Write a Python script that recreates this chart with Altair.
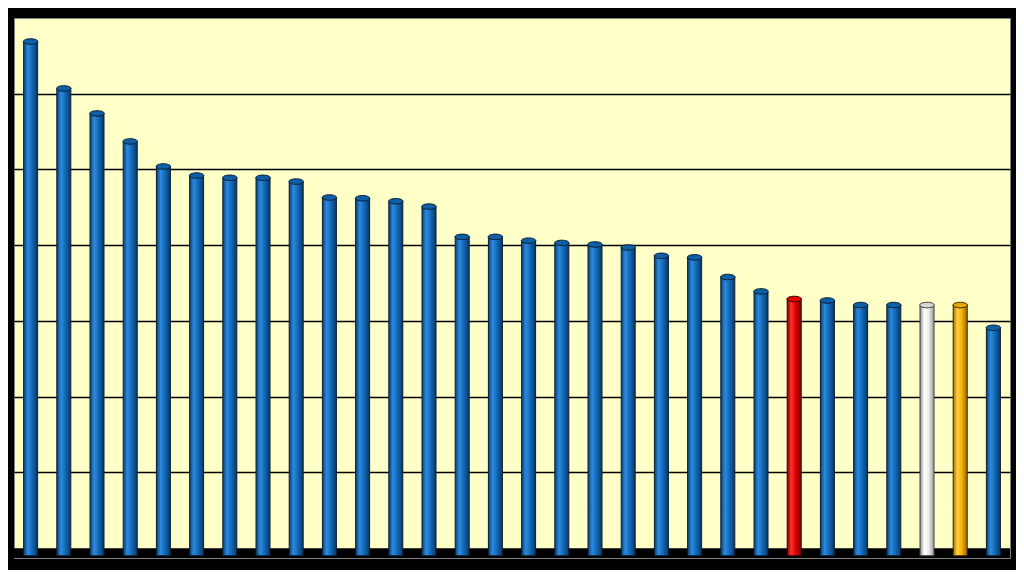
import altair as alt
import pandas as pd

categories = [f"C{i}" for i in range(1, 31)]
values = [6.69, 6.07, 5.74, 5.37, 5.04, 4.92, 4.89, 4.89, 4.84, 4.63,
          4.62, 4.58, 4.51, 4.11, 4.11, 4.06, 4.03, 4.01, 3.97, 3.86,
          3.84, 3.58, 3.39, 3.29, 3.27, 3.21, 3.21, 3.21, 3.21, 2.91]
groups = ["blue"] * 23 + ["red"] + ["blue"] * 3 + ["white", "orange", "blue"]

df = pd.DataFrame({"cat": categories, "val": values, "grp": groups, "base": [-0.1] * 30})

YMIN, YMAX = -0.13, 7
yscale = alt.Scale(domain=[YMIN, YMAX], nice=False, zero=False)
xscale = alt.Scale(domain=categories)

palettes = {
    "blue": (["#0a3f73", "#2b8ae0", "#1569b8", "#083863"], "#0f5ea6", "#0a1e33"),
    "red": (["#8a0000", "#ff3030", "#e00000", "#7a0000"], "#e80000", "#300000"),
    "white": (["#8c8c8c", "#ffffff", "#f0f0f0", "#9a9a9a"], "#d8d8d8", "#404040"),
    "orange": (["#a86f00", "#ffd040", "#f5b400", "#9a6400"], "#e6a800", "#3a2800"),
}

floor = alt.Chart(pd.DataFrame({"lo": [YMIN], "hi": [0]})).mark_rect(color="black").encode(
    y=alt.Y("lo:Q", scale=yscale, axis=alt.Axis(values=[1, 2, 3, 4, 5, 6], labels=False,
                                                 ticks=False, domain=False, title=None,
                                                 grid=True, gridColor="black", gridWidth=1.5,
                                                 gridOpacity=1)),
    y2="hi:Q",
    x=alt.value(0),
    x2=alt.value(996),
)

layers = [floor]
ellipse = "M-1,0 A1,0.38 0 1,0 1,0 A1,0.38 0 1,0 -1,0 Z"
for g, (stops, topc, strokec) in palettes.items():
    sub = alt.Chart(df).transform_filter(alt.datum.grp == g)
    grad = alt.LinearGradient(
        gradient="linear",
        stops=[alt.GradientStop(color=stops[0], offset=0),
               alt.GradientStop(color=stops[1], offset=0.3),
               alt.GradientStop(color=stops[2], offset=0.6),
               alt.GradientStop(color=stops[3], offset=1)],
        x1=0, x2=1, y1=0, y2=0)
    bars = sub.mark_bar(size=14, color=grad, stroke=strokec, strokeWidth=1).encode(
        x=alt.X("cat:N", scale=xscale, axis=None, sort=categories),
        y=alt.Y("val:Q", scale=yscale),
        y2="base:Q",
    )
    tops = sub.mark_point(shape=ellipse, size=210, filled=True, fill=topc, stroke=strokec,
                          strokeWidth=1, opacity=1).encode(
        x=alt.X("cat:N", scale=xscale, axis=None, sort=categories),
        y=alt.Y("val:Q", scale=yscale),
    )
    layers += [bars, tops]

chart = alt.layer(*layers).properties(
    width=996, height=540,
    autosize=alt.AutoSizeParams(type="none"),
    padding={"left": 6, "top": 10, "right": 6, "bottom": 12},
    background="black",
).configure_view(fill="#ffffc8", stroke="#808080", strokeWidth=1)

chart.save("out.html", embed_options={"renderer": "svg", "actions": False})
